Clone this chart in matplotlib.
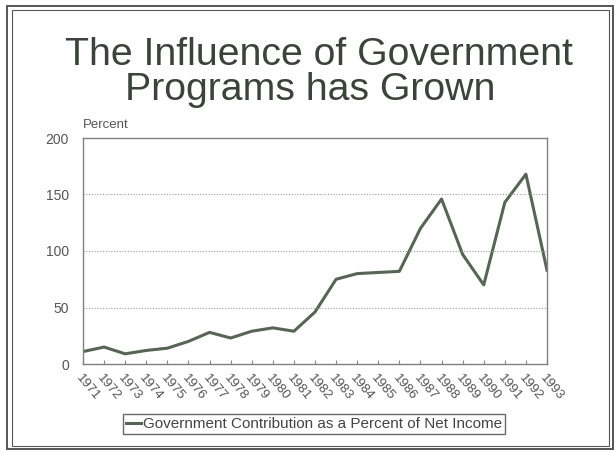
import matplotlib

matplotlib.use("Agg")
import matplotlib.pyplot as plt  # type: ignore
from matplotlib.patches import Rectangle

years = [str(y) for y in range(1971, 1994)]
gov_share = [11, 15, 9, 12, 14, 20, 28, 23, 29, 32, 29, 46,
             75, 80, 81, 82, 120, 146, 97, 70, 143, 168, 83]
y_ticks = [0, 50, 100, 150, 200]
title_lines = ["The Influence of Government", "Programs has Grown"]

plt.rcParams["font.family"] = ["Liberation Sans", "DejaVu Sans"]

W, H = 615, 453
fig = plt.figure(figsize=(W / 100, H / 100), dpi=100)
fig.patch.set_facecolor("white")

# double frame around the slide
for x0, y0, x1, y1, lw in [(7, 6, 613, 449, 1.4), (12, 10, 609, 446, 0.8)]:
    fig.add_artist(Rectangle((x0 / W, 1 - y1 / H), (x1 - x0) / W,
                             (y1 - y0) / H, transform=fig.transFigure,
                             fill=False, edgecolor="#555555", linewidth=lw))

# two title lines, placed by baseline
for text, cx, base in zip(title_lines, [319, 310], [65, 100]):
    fig.text(cx / W, 1 - base / H, text, ha="center", va="baseline",
             fontsize=28.3, color="#3b433b")

ax = fig.add_axes([83 / W, 1 - 364 / H, 464 / W, 226 / H])
xs = list(range(len(years)))
ax.plot(xs, gov_share, color="#586456", linewidth=2.2,
        label="Government Contribution as a Percent of Net Income")

ax.set_xlim(0, len(years) - 1)
ax.set_ylim(0, 200)
ax.set_yticks(y_ticks)
ax.set_xticks(xs)
ax.set_xticklabels(years, rotation=-50, ha="left", va="top",
                   rotation_mode="anchor", fontsize=9.5, color="#555555")
ax.tick_params(axis="x", direction="in", length=3, color="#888888", pad=6)
ax.tick_params(axis="y", length=0, labelsize=10, labelcolor="#555555", pad=10)
for val in y_ticks[1:-1]:
    ax.axhline(val, color="#999999", linewidth=0.8, linestyle=(0, (1, 1.5)))
for spine in ax.spines.values():
    spine.set_color("#808080")
    spine.set_linewidth(1.0)

fig.text(83 / W, 1 - 128 / H, "Percent", fontsize=9.5, color="#555555",
         va="baseline")

fig.legend(loc="center", bbox_to_anchor=(314 / W, 1 - 424 / H),
           fontsize=11, frameon=True, fancybox=False, edgecolor="#444444",
           handlelength=1.0, handletextpad=0.1, borderpad=0.2,
           labelcolor="#444444")

plt.savefig("out.png", dpi=100)
plt.close(fig)
